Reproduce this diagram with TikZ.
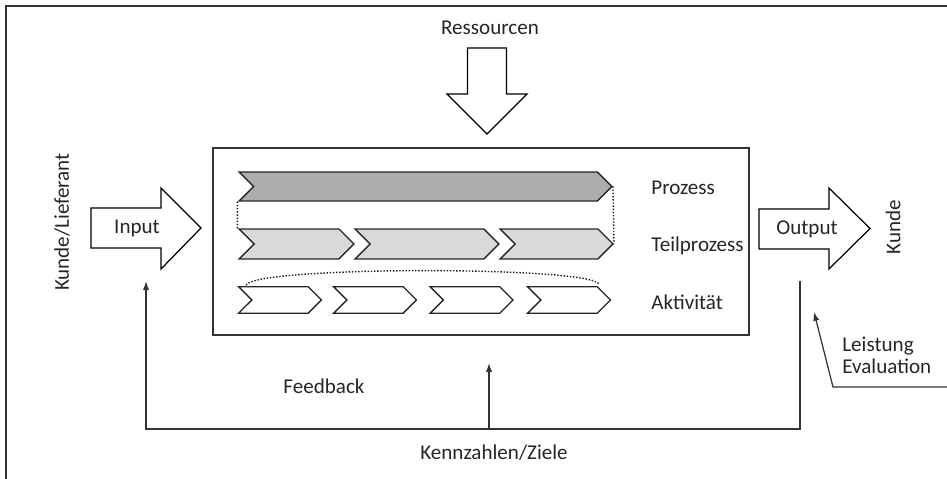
\documentclass[tikz,border=0pt]{standalone}
\usepackage{fontspec}
\setmainfont{Carlito}
\usetikzlibrary{shapes.symbols,arrows.meta}

\begin{document}
\begin{tikzpicture}[x=0.02cm,y=-0.02cm,
    linie/.style={black!80,line width=0.7pt},
    pfeil/.style={linie,-{Latex[length=5pt,width=3.5pt]}},
    blockpfeil/.style={black,line width=0.7pt,fill=white,line join=miter},
    kette/.style={shape=signal,signal to=east,signal from=west,draw=black!85,
        line width=0.8pt,inner sep=0pt},
    schrift/.style={font=\fontsize{12}{12.5}\selectfont,text=black!85,inner sep=0pt},
    punkte/.style={black!90,densely dotted,line width=0.8pt}]
    \useasboundingbox (0,0) rectangle (947,479);
    % rahmen, nur oben und links
    \draw[linie] (6,479) -- (6,6) -- (947,6);
    % ressourcen von oben
    \node[schrift] (res) at (490,28) {Ressourcen};
    \draw[blockpfeil] (467.5,48) -- (506.5,48) -- (506.5,94) -- (527,94)
        -- (487,134) -- (447,94) -- (467.5,94) -- cycle;
    % kasten mit dem prozess
    \draw[linie] (213,148) rectangle (749,335);
    \node[kette,fill=black!32,minimum width=7.46cm,minimum height=0.58cm]
        (proz) at (425.5,186.5) {};
    \node[kette,fill=black!15,minimum width=2.3cm,minimum height=0.6cm]
        (tp1) at (296.5,244) {};
    \node[kette,fill=black!15,minimum width=2.88cm,minimum height=0.6cm]
        (tp2) at (427,244) {};
    \node[kette,fill=black!15,minimum width=2.26cm,minimum height=0.6cm]
        (tp3) at (556.5,244) {};
    \foreach \x [count=\i] in {280,375,471.5,569}
        \node[kette,fill=white,minimum width=1.66cm,minimum height=0.53cm]
            (akt\i) at (\x,300) {};
    % gepunktete verbindungen
    \draw[punkte] (proz.south west) -- (tp1.north west);
    \draw[punkte] (proz.east) -- (tp3.east);
    \draw[punkte] (246,285) .. controls (256,266) and (589,266) .. (599,284);
    \node[schrift,anchor=west] (lproz) at (651,188) {Prozess};
    \node[schrift,anchor=west] (ltp) at (651,246) {Teilprozess};
    \node[schrift,anchor=west] (lakt) at (651,302) {Aktivität};
    % input und output
    \draw[blockpfeil] (91,208) -- (161,208) -- (161,188) -- (201,228)
        -- (161,269) -- (161,248) -- (91,248) -- cycle;
    \node[schrift] (in) at (137,228) {Input};
    \node[schrift,rotate=90] (lief) at (62,222) {Kunde/Lieferant};
    \draw[blockpfeil] (759,209) -- (829,209) -- (829,188) -- (870,228.5)
        -- (829,269) -- (829,249) -- (759,249) -- cycle;
    \node[schrift] (out) at (807,229) {Output};
    \node[schrift,rotate=90] (kunde) at (893,227) {Kunde};
    % feedback
    \coordinate (fbR) at (800,281);
    \coordinate (fbL) at (146,281);
    \coordinate (ecke) at (146,429);
    \coordinate (mitte) at (489,429);
    \coordinate (ziel) at (489,363);
    \draw[pfeil] (fbR) |- (ecke) -- (fbL);
    \draw[pfeil] (mitte) -- (ziel);
    \node[schrift] (fb) at (324,386) {Feedback};
    \node[schrift] (kz) at (494,453) {Kennzahlen/Ziele};
    % leistung
    \coordinate (lst1) at (947,387);
    \coordinate (lst2) at (833,387);
    \coordinate (lst3) at (814,312);
    \draw[pfeil] (lst1) -- (lst2) -- (lst3);
    \node[schrift,anchor=north west,align=left] (lst) at (842,337)
        {Leistung\\Evaluation};
\end{tikzpicture}
\end{document}
